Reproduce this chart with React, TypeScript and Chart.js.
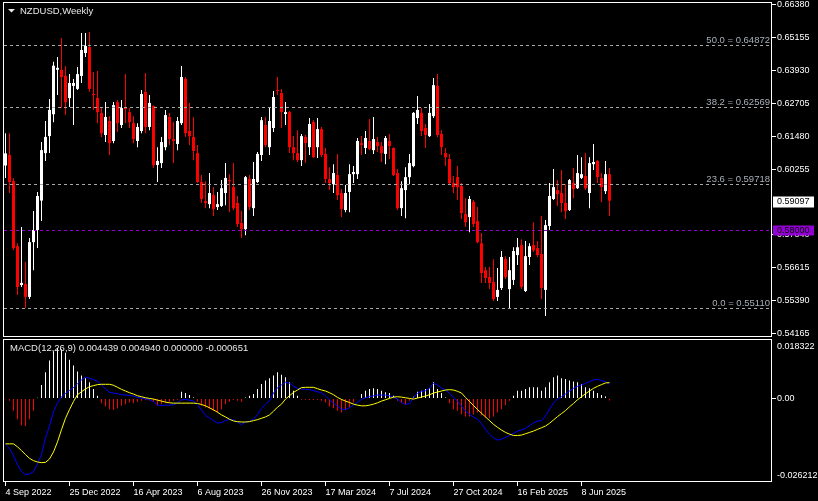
import React, { useEffect, useRef } from 'react';
import { Chart, registerables } from 'chart.js';

Chart.register(...registerables);

const SYMBOL_TITLE = 'NZDUSD,Weekly';
const MACD_TITLE = 'MACD(12,26,9) 0.004439 0.004940 0.000000 -0.000651';

// Weekly candles, first bar = week of 4 Sep 2022
const OPEN = [
  0.6040, 0.6079, 0.5982, 0.5741, 0.5597, 0.5601, 0.5553, 0.5756, 0.5801, 0.5910,
  0.6086, 0.6149, 0.6230, 0.6395, 0.6394, 0.6372, 0.6290, 0.6335, 0.6324, 0.6372,
  0.6457, 0.6479, 0.6305, 0.6290, 0.6235, 0.6153, 0.6205, 0.6131, 0.6275, 0.6190,
  0.6257, 0.6238, 0.6197, 0.6131, 0.6168, 0.6313, 0.6183, 0.6260, 0.6042, 0.6049,
  0.6108, 0.6220, 0.6138, 0.6120, 0.6197, 0.6361, 0.6168, 0.6146, 0.6086, 0.5979,
  0.5908, 0.5897, 0.5930, 0.5886, 0.5890, 0.5938, 0.5986, 0.5960, 0.5901, 0.5827,
  0.5804, 0.5990, 0.5882, 0.5979, 0.6079, 0.6190, 0.6108, 0.6179, 0.6320, 0.6309,
  0.6231, 0.6238, 0.6108, 0.6086, 0.6060, 0.6146, 0.6108, 0.6201, 0.6108, 0.6175,
  0.6083, 0.5990, 0.5971, 0.6005, 0.5938, 0.5875, 0.5942, 0.6008, 0.6008, 0.6123,
  0.6105, 0.6131, 0.6097, 0.6127, 0.6112, 0.6083, 0.6131, 0.6105, 0.6012, 0.5882,
  0.5949, 0.5997, 0.6038, 0.6216, 0.6235, 0.6179, 0.6149, 0.6223, 0.6335, 0.6157,
  0.6086, 0.6064, 0.5975, 0.5997, 0.5964, 0.5860, 0.5849, 0.5905, 0.5834, 0.5752,
  0.5652, 0.5627, 0.5608, 0.5553, 0.5586, 0.5693, 0.5582, 0.5616, 0.5708, 0.5745,
  0.5575, 0.5701, 0.5745, 0.5734, 0.5712, 0.5579, 0.5816, 0.5916, 0.5949, 0.5938,
  0.5901, 0.5875, 0.5975, 0.5956, 0.5994, 0.6001, 0.5938, 0.6045, 0.6057, 0.5994,
  0.5945, 0.6008,
];
const HIGH = [
  0.6160, 0.6160, 0.5994, 0.5752, 0.5812, 0.5682, 0.5771, 0.5871, 0.5942, 0.6127,
  0.6205, 0.6287, 0.6425, 0.6442, 0.6513, 0.6409, 0.6379, 0.6361, 0.6405, 0.6531,
  0.6531, 0.6535, 0.6387, 0.6390, 0.6257, 0.6275, 0.6223, 0.6275, 0.6283, 0.6283,
  0.6379, 0.6253, 0.6223, 0.6197, 0.6320, 0.6383, 0.6301, 0.6263, 0.6108, 0.6146,
  0.6246, 0.6235, 0.6201, 0.6220, 0.6409, 0.6368, 0.6272, 0.6220, 0.6116, 0.6005,
  0.5982, 0.6012, 0.5960, 0.5942, 0.5986, 0.6049, 0.6008, 0.6049, 0.5927, 0.5871,
  0.6001, 0.6005, 0.6053, 0.6090, 0.6220, 0.6220, 0.6253, 0.6316, 0.6368, 0.6324,
  0.6275, 0.6242, 0.6149, 0.6171, 0.6157, 0.6153, 0.6216, 0.6208, 0.6216, 0.6183,
  0.6105, 0.6034, 0.6045, 0.6083, 0.5953, 0.5968, 0.6045, 0.6038, 0.6142, 0.6149,
  0.6168, 0.6212, 0.6220, 0.6146, 0.6127, 0.6149, 0.6157, 0.6108, 0.6027, 0.5982,
  0.6034, 0.6083, 0.6238, 0.6298, 0.6253, 0.6194, 0.6268, 0.6364, 0.6379, 0.6171,
  0.6105, 0.6083, 0.6001, 0.6038, 0.5975, 0.5919, 0.5927, 0.5912, 0.5886, 0.5790,
  0.5664, 0.5664, 0.5693, 0.5660, 0.5723, 0.5704, 0.5701, 0.5737, 0.5771, 0.5767,
  0.5760, 0.5752, 0.5830, 0.5760, 0.5853, 0.5838, 0.5975, 0.6027, 0.5986, 0.6023,
  0.5971, 0.5990, 0.6031, 0.6079, 0.6071, 0.6086, 0.6071, 0.6120, 0.6060, 0.6012,
  0.6057, 0.6031,
];
const LOW = [
  0.5994, 0.5938, 0.5726, 0.5560, 0.5590, 0.5512, 0.5545, 0.5652, 0.5734, 0.5834,
  0.6057, 0.6086, 0.6200, 0.6301, 0.6253, 0.6227, 0.6257, 0.6190, 0.6320, 0.6346,
  0.6442, 0.6313, 0.6246, 0.6197, 0.6146, 0.6127, 0.6079, 0.6123, 0.6164, 0.6179,
  0.6197, 0.6179, 0.6123, 0.6108, 0.6160, 0.6160, 0.6171, 0.6031, 0.5979, 0.6031,
  0.6097, 0.6116, 0.6049, 0.6097, 0.6190, 0.6146, 0.6116, 0.6060, 0.5975, 0.5901,
  0.5882, 0.5882, 0.5853, 0.5875, 0.5886, 0.5893, 0.5867, 0.5875, 0.5812, 0.5771,
  0.5782, 0.5875, 0.5853, 0.5975, 0.6057, 0.6108, 0.6079, 0.6164, 0.6301, 0.6179,
  0.6190, 0.6086, 0.6060, 0.6053, 0.6038, 0.6049, 0.6079, 0.6068, 0.6068, 0.6071,
  0.5975, 0.5949, 0.5938, 0.5912, 0.5849, 0.5867, 0.5867, 0.5975, 0.5990, 0.6079,
  0.6083, 0.6097, 0.6083, 0.6090, 0.6053, 0.6045, 0.6064, 0.6001, 0.5875, 0.5853,
  0.5845, 0.5971, 0.6034, 0.6194, 0.6149, 0.6105, 0.6146, 0.6216, 0.6146, 0.6079,
  0.6038, 0.5968, 0.5938, 0.5912, 0.5842, 0.5812, 0.5793, 0.5812, 0.5752, 0.5605,
  0.5605, 0.5582, 0.5538, 0.5538, 0.5579, 0.5619, 0.5512, 0.5597, 0.5671, 0.5582,
  0.5571, 0.5671, 0.5719, 0.5701, 0.5545, 0.5482, 0.5801, 0.5912, 0.5890, 0.5867,
  0.5842, 0.5871, 0.5919, 0.5953, 0.5990, 0.5949, 0.5882, 0.6023, 0.5975, 0.5905,
  0.5934, 0.5853,
];
const CLOSE = [
  0.6085, 0.5979, 0.5734, 0.5590, 0.5605, 0.5553, 0.5756, 0.5801, 0.5927, 0.6097,
  0.6146, 0.6246, 0.6410, 0.6402, 0.6368, 0.6275, 0.6346, 0.6346, 0.6379, 0.6468,
  0.6483, 0.6324, 0.6301, 0.6238, 0.6160, 0.6220, 0.6123, 0.6264, 0.6197, 0.6253,
  0.6249, 0.6201, 0.6138, 0.6183, 0.6305, 0.6183, 0.6272, 0.6042, 0.6057, 0.6127,
  0.6227, 0.6138, 0.6131, 0.6205, 0.6368, 0.6160, 0.6149, 0.6094, 0.5979, 0.5916,
  0.5901, 0.5938, 0.5879, 0.5897, 0.5956, 0.5994, 0.5982, 0.5882, 0.5823, 0.5804,
  0.5997, 0.5886, 0.5990, 0.6083, 0.6208, 0.6116, 0.6205, 0.6294, 0.6316, 0.6238,
  0.6238, 0.6108, 0.6086, 0.6060, 0.6149, 0.6123, 0.6194, 0.6071, 0.6175, 0.6079,
  0.5990, 0.5975, 0.6012, 0.5930, 0.5879, 0.5938, 0.6008, 0.6016, 0.6131, 0.6116,
  0.6142, 0.6101, 0.6138, 0.6112, 0.6086, 0.6142, 0.6112, 0.6005, 0.5882, 0.5956,
  0.5997, 0.6049, 0.6235, 0.6246, 0.6168, 0.6153, 0.6235, 0.6338, 0.6153, 0.6108,
  0.6071, 0.5975, 0.5960, 0.5960, 0.5864, 0.5830, 0.5916, 0.5823, 0.5756, 0.5641,
  0.5623, 0.5605, 0.5545, 0.5579, 0.5701, 0.5627, 0.5652, 0.5723, 0.5737, 0.5590,
  0.5704, 0.5741, 0.5726, 0.5708, 0.5586, 0.5819, 0.5927, 0.5960, 0.5934, 0.5901,
  0.5871, 0.5986, 0.5953, 0.6012, 0.6008, 0.5956, 0.6049, 0.6053, 0.5997, 0.5960,
  0.6008, 0.59097,
];

const MACD_MAIN = [
  -0.01435, -0.01560, -0.01800, -0.02080, -0.02290, -0.02395, -0.02364, -0.02300, -0.02047, -0.01762,
  -0.01235, -0.00865, -0.00422, -0.00148, 0.00053, 0.00158, 0.00253, 0.00338, 0.00464, 0.00580,
  0.00665, 0.00633, 0.00591, 0.00538, 0.00422, 0.00295, 0.00190, 0.00169, 0.00148, 0.00116,
  0.00106, 0.00095, 0.00074, 0.00032, 0.00011, -0.00011, -0.00042, -0.00106, -0.00211, -0.00222,
  -0.00211, -0.00211, -0.00200, -0.00137, -0.00042, -0.00032, -0.00053, -0.00084, -0.00190, -0.00369,
  -0.00528, -0.00612, -0.00696, -0.00770, -0.00760, -0.00696, -0.00654, -0.00675, -0.00739, -0.00823,
  -0.00739, -0.00718, -0.00654, -0.00506, -0.00317, -0.00179, -0.00074, 0.00169, 0.00338, 0.00422,
  0.00506, 0.00475, 0.00380, 0.00317, 0.00295, 0.00285, 0.00274, 0.00243, 0.00211, 0.00169,
  0.00084, -0.00042, -0.00148, -0.00243, -0.00338, -0.00348, -0.00295, -0.00211, -0.00116, -0.00032,
  0.00021, 0.00053, 0.00084, 0.00106, 0.00106, 0.00106, 0.00084, 0.00032, -0.00021, -0.00127,
  -0.00190, -0.00158, 0.00021, 0.00169, 0.00222, 0.00243, 0.00317, 0.00475, 0.00422, 0.00327,
  0.00264, 0.00158, 0.00032, -0.00084, -0.00243, -0.00390, -0.00496, -0.00591, -0.00654, -0.00791,
  -0.00960, -0.01129, -0.01235, -0.01308, -0.01277, -0.01224, -0.01161, -0.01097, -0.01024, -0.00992,
  -0.00939, -0.00855, -0.00770, -0.00707, -0.00696, -0.00549, -0.00338, -0.00148, -0.00021, 0.00053,
  0.00137, 0.00232, 0.00317, 0.00380, 0.00422, 0.00475, 0.00528, 0.00580, 0.00601, 0.00559,
  0.00528, 0.004439,
];
const MACD_SIGNAL = [
  -0.01425, -0.01425, -0.01425, -0.01519, -0.01636, -0.01762, -0.01878, -0.01952, -0.01994, -0.02015,
  -0.02005, -0.01899, -0.01678, -0.01361, -0.00981, -0.00623, -0.00348, -0.00095, 0.00116, 0.00211,
  0.00295, 0.00369, 0.00401, 0.00433, 0.00443, 0.00443, 0.00443, 0.00412, 0.00348, 0.00285,
  0.00232, 0.00179, 0.00137, 0.00084, 0.00053, 0.00021, 0.00000, -0.00021, -0.00053, -0.00084,
  -0.00116, -0.00137, -0.00148, -0.00148, -0.00148, -0.00148, -0.00148, -0.00148, -0.00158, -0.00190,
  -0.00232, -0.00295, -0.00359, -0.00433, -0.00517, -0.00580, -0.00654, -0.00707, -0.00728, -0.00739,
  -0.00739, -0.00728, -0.00696, -0.00665, -0.00623, -0.00580, -0.00517, -0.00401, -0.00274, -0.00179,
  -0.00021, 0.00084, 0.00190, 0.00264, 0.00338, 0.00348, 0.00348, 0.00348, 0.00306, 0.00264,
  0.00232, 0.00179, 0.00116, 0.00032, -0.00032, -0.00084, -0.00127, -0.00179, -0.00211, -0.00232,
  -0.00232, -0.00211, -0.00179, -0.00137, -0.00084, -0.00042, 0.00000, 0.00042, 0.00053, 0.00042,
  0.00021, 0.00000, -0.00021, 0.00011, 0.00042, 0.00074, 0.00116, 0.00169, 0.00200, 0.00232,
  0.00264, 0.00274, 0.00264, 0.00222, 0.00169, 0.00032, -0.00095, -0.00222, -0.00348, -0.00464,
  -0.00580, -0.00696, -0.00813, -0.00907, -0.00992, -0.01066, -0.01119, -0.01161, -0.01161, -0.01150,
  -0.01108, -0.01066, -0.01024, -0.00971, -0.00918, -0.00865, -0.00781, -0.00675, -0.00570, -0.00475,
  -0.00380, -0.00264, -0.00158, -0.00042, 0.00053, 0.00148, 0.00232, 0.00317, 0.00380, 0.00433,
  0.00486, 0.00494,
];
const MACD_HIST = [
  -0.00011, -0.00074, -0.00390, -0.00654, -0.00844, -0.00865, -0.00654, -0.00390, 0.00021, 0.00422,
  0.00823, 0.01192, 0.01477, 0.01583, 0.01541, 0.01435, 0.01213, 0.01034, 0.00844, 0.00718,
  0.00633, 0.00506, 0.00295, 0.00084, -0.00148, -0.00253, -0.00338, -0.00359, -0.00317, -0.00232,
  -0.00179, -0.00127, -0.00148, -0.00106, -0.00074, -0.00042, -0.00063, -0.00106, -0.00211, -0.00179,
  -0.00127, -0.00106, -0.00074, -0.00042, 0.00211, 0.00169, 0.00106, 0.00032, -0.00106, -0.00232,
  -0.00285, -0.00317, -0.00390, -0.00443, -0.00338, -0.00179, -0.00106, -0.00042, -0.00074, -0.00106,
  0.00032, 0.00084, 0.00137, 0.00295, 0.00454, 0.00559, 0.00633, 0.00718, 0.00823, 0.00739,
  0.00665, 0.00506, 0.00243, 0.00084, -0.00042, -0.00042, -0.00053, -0.00053, -0.00042, -0.00074,
  -0.00127, -0.00253, -0.00306, -0.00390, -0.00443, -0.00359, -0.00285, -0.00127, -0.00021, 0.00137,
  0.00243, 0.00295, 0.00317, 0.00295, 0.00243, 0.00190, 0.00169, 0.00084, -0.00074, -0.00148,
  -0.00179, -0.00074, 0.00053, 0.00211, 0.00243, 0.00295, 0.00317, 0.00506, 0.00295, 0.00169,
  0.00032, -0.00148, -0.00338, -0.00390, -0.00496, -0.00570, -0.00570, -0.00496, -0.00443, -0.00528,
  -0.00601, -0.00633, -0.00570, -0.00443, -0.00338, -0.00211, -0.00074, 0.00084, 0.00243, 0.00243,
  0.00295, 0.00348, 0.00348, 0.00348, 0.00243, 0.00348, 0.00506, 0.00665, 0.00718, 0.00633,
  0.00612, 0.00559, 0.00528, 0.00506, 0.00454, 0.00348, 0.00317, 0.00243, 0.00169, 0.00106,
  0.00063, -0.000651,
];

const DATE_LABELS = [
  '4 Sep 2022', '25 Dec 2022', '16 Apr 2023', '6 Aug 2023', '26 Nov 2023',
  '17 Mar 2024', '7 Jul 2024', '27 Oct 2024', '16 Feb 2025', '8 Jun 2025',
];
const DATE_LABEL_STEP = 16; // one date label every 16 weekly bars

const PRICE_TICKS = [0.6638, 0.65155, 0.6393, 0.62705, 0.6148, 0.60255, 0.5784, 0.56615, 0.5539, 0.54165];
const PRICE_MIN = 0.54044;
const PRICE_MAX = 0.66424;

const FIB_LEVELS = [0.5511, 0.59718, 0.62569, 0.64872];
const FIB_NAMES = ['0.0', '23.6', '38.2', '50.0'];
const SUPPORT_LEVEL = 0.58;
const LAST_PRICE = 0.59097;

const MACD_MIN = -0.026212;
const MACD_MAX = 0.018322;
const MACD_TICK_LABELS = ['0.018322', '0.00', '-0.026212'];
const MACD_LABEL_INSET = 0.0019;

const X_MIN = -0.375;
const X_MAX = 191.625;

const UP_COLOR = 'rgb(255,255,255)';
const DOWN_COLOR = 'rgb(255,0,0)';
const FONT = "'Liberation Sans', Arial, sans-serif";
const TEXT_COLOR = '#e8e8e8';

export default function App() {
  const topRef = useRef<HTMLCanvasElement>(null);
  const botRef = useRef<HTMLCanvasElement>(null);

  useEffect(() => {
    const idx = CLOSE.map((_, i) => i);
    const candleColors = idx.map((i) => (CLOSE[i] >= OPEN[i] ? UP_COLOR : DOWN_COLOR));

    const mainOverlay = {
      id: 'mainOverlay',
      afterDraw(chart: any) {
        const { ctx, chartArea, scales } = chart;
        const { left, right, top, bottom } = chartArea;
        const y = scales.y;
        ctx.save();
        // Fibonacci levels
        ctx.lineWidth = 1;
        ctx.setLineDash([3, 3]);
        ctx.strokeStyle = '#a8a8a8';
        ctx.font = `9.5px ${FONT}`;
        ctx.textAlign = 'right';
        ctx.textBaseline = 'middle';
        FIB_LEVELS.forEach((lv, k) => {
          const py = Math.round(y.getPixelForValue(lv)) + 0.5;
          ctx.beginPath();
          ctx.moveTo(left, py);
          ctx.lineTo(right, py);
          ctx.stroke();
          ctx.fillStyle = '#a9b0b8';
          ctx.fillText(`${FIB_NAMES[k]} = ${lv.toFixed(5)}`, right - 2, py - 5);
        });
        // support line
        const sp = Math.round(y.getPixelForValue(SUPPORT_LEVEL)) + 0.5;
        ctx.strokeStyle = '#9400d3';
        ctx.beginPath();
        ctx.moveTo(left, sp);
        ctx.lineTo(right, sp);
        ctx.stroke();
        ctx.setLineDash([]);
        // price boxes on the axis
        ctx.font = `9px ${FONT}`;
        ctx.textAlign = 'left';
        ctx.fillStyle = '#9400d3';
        ctx.fillRect(right + 1, sp - 5, 41, 10);
        ctx.fillStyle = '#000';
        ctx.fillText(SUPPORT_LEVEL.toFixed(5), right + 5, sp);
        const lp = Math.round(y.getPixelForValue(LAST_PRICE)) + 0.5;
        ctx.fillStyle = '#ffffff';
        ctx.fillRect(right + 1, lp - 5, 41, 11);
        ctx.fillStyle = '#000';
        ctx.fillText(LAST_PRICE.toFixed(5), right + 5, lp);
        // title
        ctx.fillStyle = TEXT_COLOR;
        ctx.beginPath();
        ctx.moveTo(8, 9);
        ctx.lineTo(15, 9);
        ctx.lineTo(11.5, 12.5);
        ctx.closePath();
        ctx.fill();
        ctx.font = `9.5px ${FONT}`;
        ctx.fillText(SYMBOL_TITLE, 20, 11);
        // frame
        ctx.strokeStyle = '#ffffff';
        ctx.lineWidth = 1;
        ctx.strokeRect(left - 0.5, top - 0.5, right - left, bottom - top);
        ctx.restore();
      },
    };

    const macdOverlay = {
      id: 'macdOverlay',
      afterDraw(chart: any) {
        const { ctx, chartArea } = chart;
        const { left, right, top, bottom } = chartArea;
        ctx.save();
        ctx.strokeStyle = '#ffffff';
        ctx.lineWidth = 1;
        ctx.strokeRect(left - 0.5, top - 0.5, right - left, bottom - top);
        ctx.fillStyle = TEXT_COLOR;
        ctx.font = `9.5px ${FONT}`;
        ctx.textAlign = 'left';
        ctx.textBaseline = 'middle';
        ctx.fillText(MACD_TITLE, 10, top + 8.5);
        ctx.restore();
      },
    };

    const topChart = new Chart(topRef.current as HTMLCanvasElement, {
      type: 'bar',
      data: {
        datasets: [
          {
            label: 'body',
            data: idx.map((i) => ({ x: i, y: [OPEN[i], CLOSE[i]] })) as any,
            backgroundColor: candleColors,
            barPercentage: 0.75,
            categoryPercentage: 1,
            borderWidth: 0,
            inflateAmount: 0,
            grouped: false,
            order: 1,
          } as any,
          {
            label: 'wick',
            data: idx.map((i) => ({ x: i, y: [LOW[i], HIGH[i]] })) as any,
            backgroundColor: candleColors,
            maxBarThickness: 1,
            borderWidth: 0,
            inflateAmount: 0,
            grouped: false,
            order: 2,
          } as any,
        ],
      },
      options: {
        responsive: false,
        maintainAspectRatio: false,
        animation: false,
        devicePixelRatio: 1,
        layout: { padding: { left: 4, right: 0, top: 3, bottom: 164 } },
        plugins: { legend: { display: false }, tooltip: { enabled: false } },
        scales: {
          x: {
            type: 'linear',
            min: X_MIN,
            max: X_MAX,
            offset: false,
            display: false,
            grid: { offset: false },
          },
          y: {
            position: 'right',
            min: PRICE_MIN,
            max: PRICE_MAX,
            afterBuildTicks: (s: any) => {
              s.ticks = PRICE_TICKS.map((v) => ({ value: v }));
            },
            afterFit: (s: any) => {
              s.width = 46;
              s.paddingTop = 0;
              s.paddingBottom = 0;
            },
            ticks: {
              color: '#ffffff',
              font: { family: FONT, size: 9 },
              padding: 1,
              autoSkip: false,
              callback: (v: any) => Number(v).toFixed(5),
            },
            grid: { drawOnChartArea: false, drawTicks: true, tickLength: 4, color: '#ffffff' },
            border: { display: false },
          },
        },
      } as any,
      plugins: [mainOverlay],
    });

    const histBar = {
      type: 'bar',
      maxBarThickness: 1,
      borderWidth: 0,
      inflateAmount: 0,
      grouped: false,
      order: 3,
    };

    const botChart = new Chart(botRef.current as HTMLCanvasElement, {
      type: 'bar',
      data: {
        datasets: [
          {
            type: 'line',
            label: 'MACD',
            data: idx.map((i) => ({ x: i, y: MACD_MAIN[i] })),
            borderColor: '#0000ff',
            borderWidth: 1,
            pointRadius: 0,
            tension: 0,
            order: 1,
          } as any,
          {
            type: 'line',
            label: 'Signal',
            data: idx.map((i) => ({ x: i, y: MACD_SIGNAL[i] })),
            borderColor: '#ffff00',
            borderWidth: 1,
            pointRadius: 0,
            tension: 0,
            order: 0,
          } as any,
          {
            ...histBar,
            label: 'Histogram up',
            data: idx.map((i) => ({ x: i, y: MACD_HIST[i] >= 0 ? MACD_HIST[i] : null })),
            backgroundColor: UP_COLOR,
          } as any,
          {
            ...histBar,
            label: 'Histogram down',
            data: idx.map((i) => ({ x: i, y: MACD_HIST[i] < 0 ? MACD_HIST[i] : null })),
            backgroundColor: DOWN_COLOR,
          } as any,
        ],
      },
      options: {
        responsive: false,
        maintainAspectRatio: false,
        animation: false,
        devicePixelRatio: 1,
        layout: { padding: { left: 4, right: 0, top: 340, bottom: 0 } },
        plugins: { legend: { display: false }, tooltip: { enabled: false } },
        scales: {
          x: {
            type: 'linear',
            position: 'bottom',
            min: X_MIN,
            max: X_MAX,
            offset: false,
            afterBuildTicks: (s: any) => {
              s.ticks = DATE_LABELS.map((_, k) => ({ value: k * DATE_LABEL_STEP }));
            },
            afterFit: (s: any) => {
              s.height = 19;
              s.paddingLeft = 0;
              s.paddingRight = 0;
            },
            ticks: {
              color: '#ffffff',
              font: { family: FONT, size: 9 },
              padding: 1,
              align: 'start',
              autoSkip: false,
              maxRotation: 0,
              minRotation: 0,
              callback: (_v: any, k: number) => DATE_LABELS[k],
            },
            grid: { drawOnChartArea: false, drawTicks: true, tickLength: 4, color: '#ffffff', offset: false },
            border: { display: false },
          },
          y: {
            position: 'right',
            min: MACD_MIN,
            max: MACD_MAX,
            afterBuildTicks: (s: any) => {
              s.ticks = [MACD_MAX - MACD_LABEL_INSET, 0, MACD_MIN + MACD_LABEL_INSET].map((v) => ({ value: v }));
            },
            afterFit: (s: any) => {
              s.width = 46;
              s.paddingTop = 0;
              s.paddingBottom = 0;
            },
            ticks: {
              color: '#ffffff',
              font: { family: FONT, size: 9 },
              padding: 1,
              autoSkip: false,
              callback: (_v: any, k: number) => MACD_TICK_LABELS[k],
            },
            grid: {
              drawOnChartArea: false,
              drawTicks: true,
              tickLength: 4,
              color: (c: any) => (c.tick && c.tick.value === 0 ? '#ffffff' : 'rgba(0,0,0,0)'),
            },
            border: { display: false },
          },
        },
      } as any,
      plugins: [macdOverlay],
    });

    return () => {
      topChart.destroy();
      botChart.destroy();
    };
  }, []);

  const canvasStyle: React.CSSProperties = { position: 'absolute', left: 0, top: 0, width: 818, height: 501 };
  return (
    <div style={{ position: 'fixed', left: 0, top: 0, width: 818, height: 501, background: '#000', overflow: 'hidden' }}>
      <canvas ref={topRef} width={818} height={501} style={canvasStyle} />
      <canvas ref={botRef} width={818} height={501} style={canvasStyle} />
    </div>
  );
}
